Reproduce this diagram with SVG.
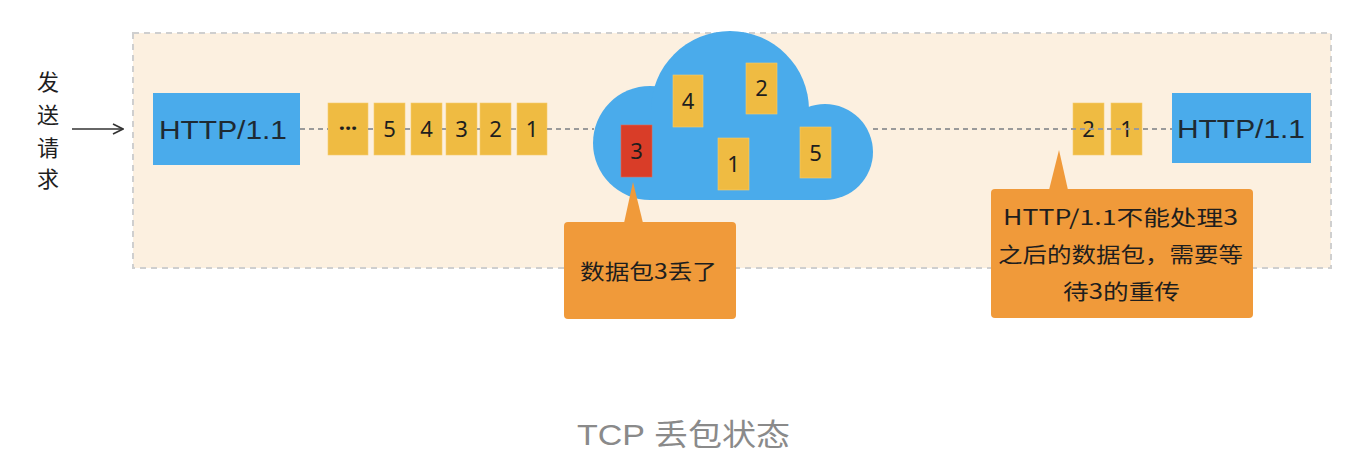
<svg xmlns="http://www.w3.org/2000/svg" width="1362" height="451" viewBox="0 0 1362 451">
<style>
.hand{font-family:"Noto Sans CJK SC","Noto Sans",sans-serif;fill:#1e1e1e}
.http{font-family:"Liberation Sans","Noto Sans",sans-serif;font-size:25px;fill:#1e2a33}
.num{font-family:"Noto Sans","Noto Sans CJK SC",sans-serif;font-size:22px;fill:#1e1e1e;text-anchor:middle}
.pkt{fill:#EFBB42;stroke:#F5CC6E;stroke-width:0.6}
.blue{fill:#4AABEB}
.call{fill:#F09A3A}
.dash{stroke:#9a9a9a;stroke-width:2;stroke-dasharray:5 4;fill:none}
.cap{font-family:"Liberation Sans","Noto Sans CJK SC",sans-serif;font-size:30px;fill:#8a8a8a}
</style>
<defs>
<marker id="arr" viewBox="0 0 12 12" refX="11" refY="6" markerWidth="12" markerHeight="12" markerUnits="userSpaceOnUse" orient="auto">
<path d="M1,1 L11,6 L1,11" fill="none" stroke="#333" stroke-width="1.6"/>
</marker>
</defs>
<rect width="1362" height="451" fill="#ffffff"/>
<g id="frame">
<rect x="133" y="33" width="1198" height="235" fill="#FCF0E0" stroke="#CFCFCF" stroke-width="2" stroke-dasharray="6 5"/>
</g>
<g id="sender-label">
<text class="hand" font-size="22" x="48" y="90" text-anchor="middle">发</text>
<text class="hand" font-size="22" x="48" y="123" text-anchor="middle">送</text>
<text class="hand" font-size="22" x="48" y="156" text-anchor="middle">请</text>
<text class="hand" font-size="22" x="48" y="187" text-anchor="middle">求</text>
</g>
<g id="cloud">
<circle cx="650" cy="143" r="57" class="blue"/>
<circle cx="730" cy="110" r="79" class="blue"/>
<circle cx="825" cy="152" r="48" class="blue"/>
<rect x="650" y="110" width="175" height="90" class="blue"/>
</g>
<g id="http-left">
<rect x="153" y="93" width="147" height="72" class="blue"/>
<text class="http" x="159" y="139" textLength="128" lengthAdjust="spacingAndGlyphs">HTTP/1.1</text>
</g>
<g id="queue-left">
<rect x="328" y="103" width="40" height="52" class="pkt"/>
<text class="num" x="348" y="136" font-weight="bold">···</text>
<rect x="374" y="103" width="31" height="52" class="pkt"/>
<text class="num" x="389.500" y="137">5</text>
<rect x="411" y="103" width="31" height="52" class="pkt"/>
<text class="num" x="426.500" y="137">4</text>
<rect x="446" y="103" width="31" height="52" class="pkt"/>
<text class="num" x="461.500" y="137">3</text>
<rect x="480" y="103" width="31" height="52" class="pkt"/>
<text class="num" x="495.500" y="137">2</text>
<rect x="517" y="103" width="30" height="52" class="pkt"/>
<text class="num" x="532" y="137">1</text>
</g>
<g id="cloud-packets">
<rect x="621" y="125" width="31" height="52" fill="#D93D28" stroke="#E06A55" stroke-width="0.6"/>
<text class="num" x="636.500" y="159">3</text>
<rect x="673" y="75" width="30" height="52" class="pkt"/>
<text class="num" x="688" y="109">4</text>
<rect x="746" y="63" width="31" height="51" class="pkt"/>
<text class="num" x="761.500" y="96">2</text>
<rect x="718" y="138" width="31" height="52" class="pkt"/>
<text class="num" x="733.500" y="172">1</text>
<rect x="800" y="127" width="31" height="51" class="pkt"/>
<text class="num" x="815.500" y="161">5</text>
</g>
<g id="queue-right">
<rect x="1073" y="103" width="31" height="52" class="pkt"/>
<text class="num" x="1088.500" y="137">2</text>
<rect x="1111" y="103" width="31" height="52" class="pkt"/>
<text class="num" x="1126.500" y="137">1</text>
</g>
<g id="http-right">
<rect x="1172" y="93" width="139" height="70" class="blue"/>
<text class="http" x="1177" y="138" textLength="128" lengthAdjust="spacingAndGlyphs">HTTP/1.1</text>
</g>
<g id="callout-lost">
<path d="M633,182 L643,223 L624,223 Z" class="call"/>
<rect x="564" y="222" width="172" height="97" rx="4" class="call"/>
<text class="hand" font-size="21" x="580" y="279" textLength="137" lengthAdjust="spacingAndGlyphs">数据包3丢了</text>
</g>
<g id="callout-wait">
<path d="M1059,150 L1068,190 L1049,190 Z" class="call"/>
<rect x="991" y="189" width="262" height="129" rx="4" class="call"/>
<text class="hand" font-size="21" x="1003" y="225" textLength="235" lengthAdjust="spacingAndGlyphs">HTTP/1.1不能处理3</text>
<text class="hand" font-size="21" x="998" y="262" textLength="245" lengthAdjust="spacingAndGlyphs">之后的数据包，需要等</text>
<text class="hand" font-size="21" x="1063" y="299" textLength="117" lengthAdjust="spacingAndGlyphs">待3的重传</text>
</g>
<g id="connectors">
<line x1="72" y1="129" x2="123" y2="129" stroke="#333" stroke-width="1.6" marker-end="url(#arr)"/>
<path class="dash" d="M300,129 L328,129 M368,129 L374,129 M405,129 L411,129 M442,129 L446,129 M477,129 L480,129 M511,129 L517,129 M547,129 L594,129"/>
<path class="dash" d="M873,129 L1172,129"/>
</g>
<g id="caption">
<text class="cap" x="577" y="445" textLength="213" lengthAdjust="spacingAndGlyphs">TCP 丢包状态</text>
</g>
</svg>
